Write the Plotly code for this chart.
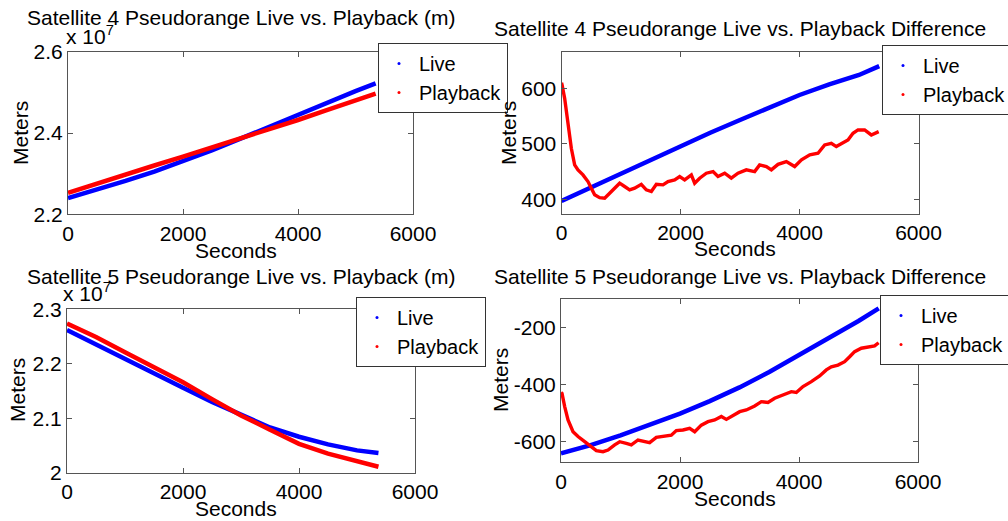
import plotly.graph_objects as go

W, H = 1008, 521
FONT = "Liberation Sans, Arial, sans-serif"
FS = 21
LEG_FS = 20
BLUE = "#0000FF"
RED = "#FF0000"
AXC = "#555555"

# ---- Satellite 4 pseudorange (m) ----
s4_t = [0, 500, 1000, 1500, 2000, 2500, 3000, 3500, 4000, 4500, 5000, 5350]
s4_live = [2.240e7, 2.260e7, 2.282e7, 2.305e7, 2.330e7, 2.357e7, 2.386e7,
           2.416e7, 2.446e7, 2.475e7, 2.503e7, 2.522e7]
s4_play = [2.253e7, 2.276e7, 2.298e7, 2.320e7, 2.342e7, 2.364e7, 2.387e7,
           2.410e7, 2.432e7, 2.456e7, 2.479e7, 2.497e7]

# ---- Satellite 4 difference (m) ----
s4d_live_t = [0, 500, 1000, 1500, 2000, 2500, 3000, 3500, 4000, 4500, 5000, 5340]
s4d_live = [397, 422, 447, 472, 497, 520, 543, 566, 588, 607, 624, 640]
s4d_play_t = [0, 8, 53, 109, 165, 221, 277, 361, 445, 501, 557, 641, 725, 809,
              893, 977, 1061, 1145, 1229, 1341, 1425, 1510, 1594, 1706, 1790,
              1902, 1986, 2070, 2182, 2238, 2322, 2434, 2547, 2630, 2743, 2854,
              2966, 3106, 3246, 3330, 3443, 3527, 3639, 3779, 3919, 4033, 4173,
              4311, 4423, 4535, 4619, 4731, 4815, 4899, 4983, 5095, 5207, 5331]
s4d_play = [610, 607, 582, 534, 492, 462, 453, 444, 432, 420, 408, 403, 402, 411,
            420, 429, 423, 417, 420, 427, 417, 414, 427, 426, 432,
            435, 441, 435, 444, 429, 438, 447, 450, 441, 447, 438,
            447, 453, 450, 462, 459, 453, 463, 468, 459, 471, 480,
            483, 498, 501, 495, 501, 507, 519, 525, 525, 516, 522]

# ---- Satellite 5 pseudorange (m) ----
s5_t = [0, 500, 1000, 1500, 2000, 2500, 3000, 3500, 4000, 4500, 5000, 5370]
s5_live = [2.262e7, 2.235e7, 2.208e7, 2.181e7, 2.156e7, 2.130e7, 2.106e7,
           2.083e7, 2.066e7, 2.052e7, 2.041e7, 2.036e7]
s5_play = [2.274e7, 2.249e7, 2.221e7, 2.193e7, 2.166e7, 2.135e7, 2.105e7,
           2.079e7, 2.053e7, 2.035e7, 2.020e7, 2.011e7]

# ---- Satellite 5 difference (m) ----
s5d_live_t = [0, 500, 1000, 1500, 2000, 2500, 3000, 3500, 4000, 4500, 5000, 5340]
s5d_live = [-641, -612, -578, -542, -502, -458, -410, -356, -297, -238, -178, -134]
s5d_play_t = [0, 17, 62, 118, 202, 286, 398, 510, 594, 706, 790, 902, 986, 1098,
              1182, 1294, 1406, 1490, 1602, 1742, 1854, 1938, 2050, 2162, 2247,
              2358, 2471, 2583, 2695, 2779, 2891, 3003, 3115, 3255, 3367, 3479,
              3591, 3731, 3871, 3955, 4067, 4207, 4347, 4459, 4543, 4655, 4767,
              4851, 4935, 5047, 5159, 5271, 5338]
s5d_play = [-428, -431, -477, -524, -565, -582, -600, -617, -631, -635, -629, -611,
            -600, -606, -611, -594, -600, -603, -585, -580, -577, -561, -559, -553,
            -565, -542, -530, -524, -512, -522, -507, -495, -489, -475, -460, -463,
            -448, -437, -425, -428, -407, -390, -370, -349, -338, -332, -320,
            -303, -285, -273, -270, -265, -254]

x_ticks = [0, 2000, 4000, 6000]
s4_yticks = [2.2e7, 2.4e7, 2.6e7]
s4_ytext = ["2.2", "2.4", "2.6"]
s5_yticks = [2.0e7, 2.1e7, 2.2e7, 2.3e7]
s5_ytext = ["2", "2.1", "2.2", "2.3"]
s4d_yticks = [400, 500, 600]
s4d_ytext = ["400", "500", "600"]
s5d_yticks = [-600, -400, -200]
s5d_ytext = ["-600", "-400", "-200"]

titles = ["Satellite 4 Pseudorange Live vs. Playback (m)",
          "Satellite 4 Pseudorange Live vs. Playback Difference",
          "Satellite 5 Pseudorange Live vs. Playback (m)",
          "Satellite 5 Pseudorange Live vs. Playback Difference"]
series_names = ["Live", "Playback"]


def px(x):
    return x / W


def py(y):
    return 1 - y / H


# plot boxes in pixels: left, right, top, bottom
boxes = [(68, 413, 51.7, 214.3), (561.5, 918.5, 51.7, 214.0),
         (67, 415, 309.3, 472.7), (561, 918, 299.3, 462.3)]

fig = go.Figure()

panels = [
    (s4_t, s4_live, s4_t, s4_play, 4.5, 4.5),
    (s4d_live_t, s4d_live, s4d_play_t, s4d_play, 4.5, 3.4),
    (s5_t, s5_live, s5_t, s5_play, 4.5, 4.5),
    (s5d_live_t, s5d_live, s5d_play_t, s5d_play, 4.5, 3.4),
]

for i, (lt, lv, pt, pv, lw, pw) in enumerate(panels):
    sfx = "" if i == 0 else str(i + 1)
    leg = "legend" if i == 0 else "legend" + str(i + 1)
    fig.add_trace(go.Scatter(x=lt, y=lv, mode="lines", line=dict(color=BLUE, width=lw),
                             xaxis="x" + sfx, yaxis="y" + sfx, showlegend=False,
                             hoverinfo="skip"))
    fig.add_trace(go.Scatter(x=pt, y=pv, mode="lines", line=dict(color=RED, width=pw),
                             xaxis="x" + sfx, yaxis="y" + sfx, showlegend=False,
                             hoverinfo="skip"))
    for name, col in zip(series_names, [BLUE, RED]):
        fig.add_trace(go.Scatter(x=[None], y=[None], mode="markers", name=name,
                                 marker=dict(color=col, size=3),
                                 xaxis="x" + sfx, yaxis="y" + sfx, legend=leg))

axis_common = dict(showgrid=False, zeroline=False, showline=True, linecolor=AXC,
                   linewidth=1, mirror="allticks", ticks="inside", ticklen=5,
                   tickcolor=AXC, automargin=False,
                   tickfont=dict(family=FONT, size=FS, color="black"))

y_specs = [
    dict(range=[2.2e7, 2.6e7], tickvals=s4_yticks, ticktext=s4_ytext),
    dict(range=[373.5, 666], tickvals=s4d_yticks, ticktext=s4d_ytext),
    dict(range=[2.0e7, 2.3e7], tickvals=s5_yticks, ticktext=s5_ytext),
    dict(range=[-672, -102], tickvals=s5d_yticks, ticktext=s5d_ytext),
]

layout = dict(width=W, height=H, margin=dict(l=0, r=0, t=0, b=0, autoexpand=False),
              paper_bgcolor="white", plot_bgcolor="white",
              font=dict(family=FONT, size=FS, color="black"), annotations=[])

legend_boxes = [(378, 43), (882, 45), (356, 297), (880, 295)]

for i, (l, r, t, b) in enumerate(boxes):
    sfx = "" if i == 0 else str(i + 1)
    xa = dict(axis_common, domain=[px(l), px(r)], range=[0, 6000], tickvals=x_ticks,
              anchor="y" + sfx)
    ya = dict(axis_common, domain=[py(b), py(t)], anchor="x" + sfx, **y_specs[i])
    layout["xaxis" + sfx] = xa
    layout["yaxis" + sfx] = ya
    lx, ly = legend_boxes[i]
    layout["legend" if i == 0 else "legend" + str(i + 1)] = dict(
        x=px(lx), y=py(ly), xref="container", yref="container",
        xanchor="left", yanchor="top", bgcolor="white",
        bordercolor="#333333", borderwidth=1, font=dict(family=FONT, size=LEG_FS),
        tracegroupgap=0, itemwidth=30)

ann = layout["annotations"]
title_y = [18, 28, 276, 276]
xlab_pos = [(236, 250), (735, 248), (236, 508), (735, 498)]
ylab_pos = [(20, 133), (508, 133), (17, 390), (500, 380)]
for i, (l, r, t, b) in enumerate(boxes):
    ann.append(dict(text=titles[i], x=px((l + r) / 2), y=py(title_y[i]), xref="paper",
                    yref="paper", showarrow=False, xanchor="center", yanchor="middle",
                    font=dict(family=FONT, size=FS)))
    ann.append(dict(text="Seconds", x=px(xlab_pos[i][0]), y=py(xlab_pos[i][1]),
                    xref="paper", yref="paper", showarrow=False, xanchor="center",
                    yanchor="middle", font=dict(family=FONT, size=FS)))
    ann.append(dict(text="Meters", x=px(ylab_pos[i][0]), y=py(ylab_pos[i][1]),
                    xref="paper", yref="paper", showarrow=False, xanchor="center",
                    yanchor="middle", textangle=-90, font=dict(family=FONT, size=FS)))

# exponent labels for the pseudorange axes
for (x0, y0) in [(64, 50), (61, 307)]:
    ann.append(dict(text="x 10<sup>7</sup>", x=px(x0), y=py(y0), xref="paper",
                    yref="paper", showarrow=False, xanchor="left", yanchor="bottom",
                    font=dict(family=FONT, size=FS)))

fig.update_layout(**layout)
fig.write_html("out.html")
